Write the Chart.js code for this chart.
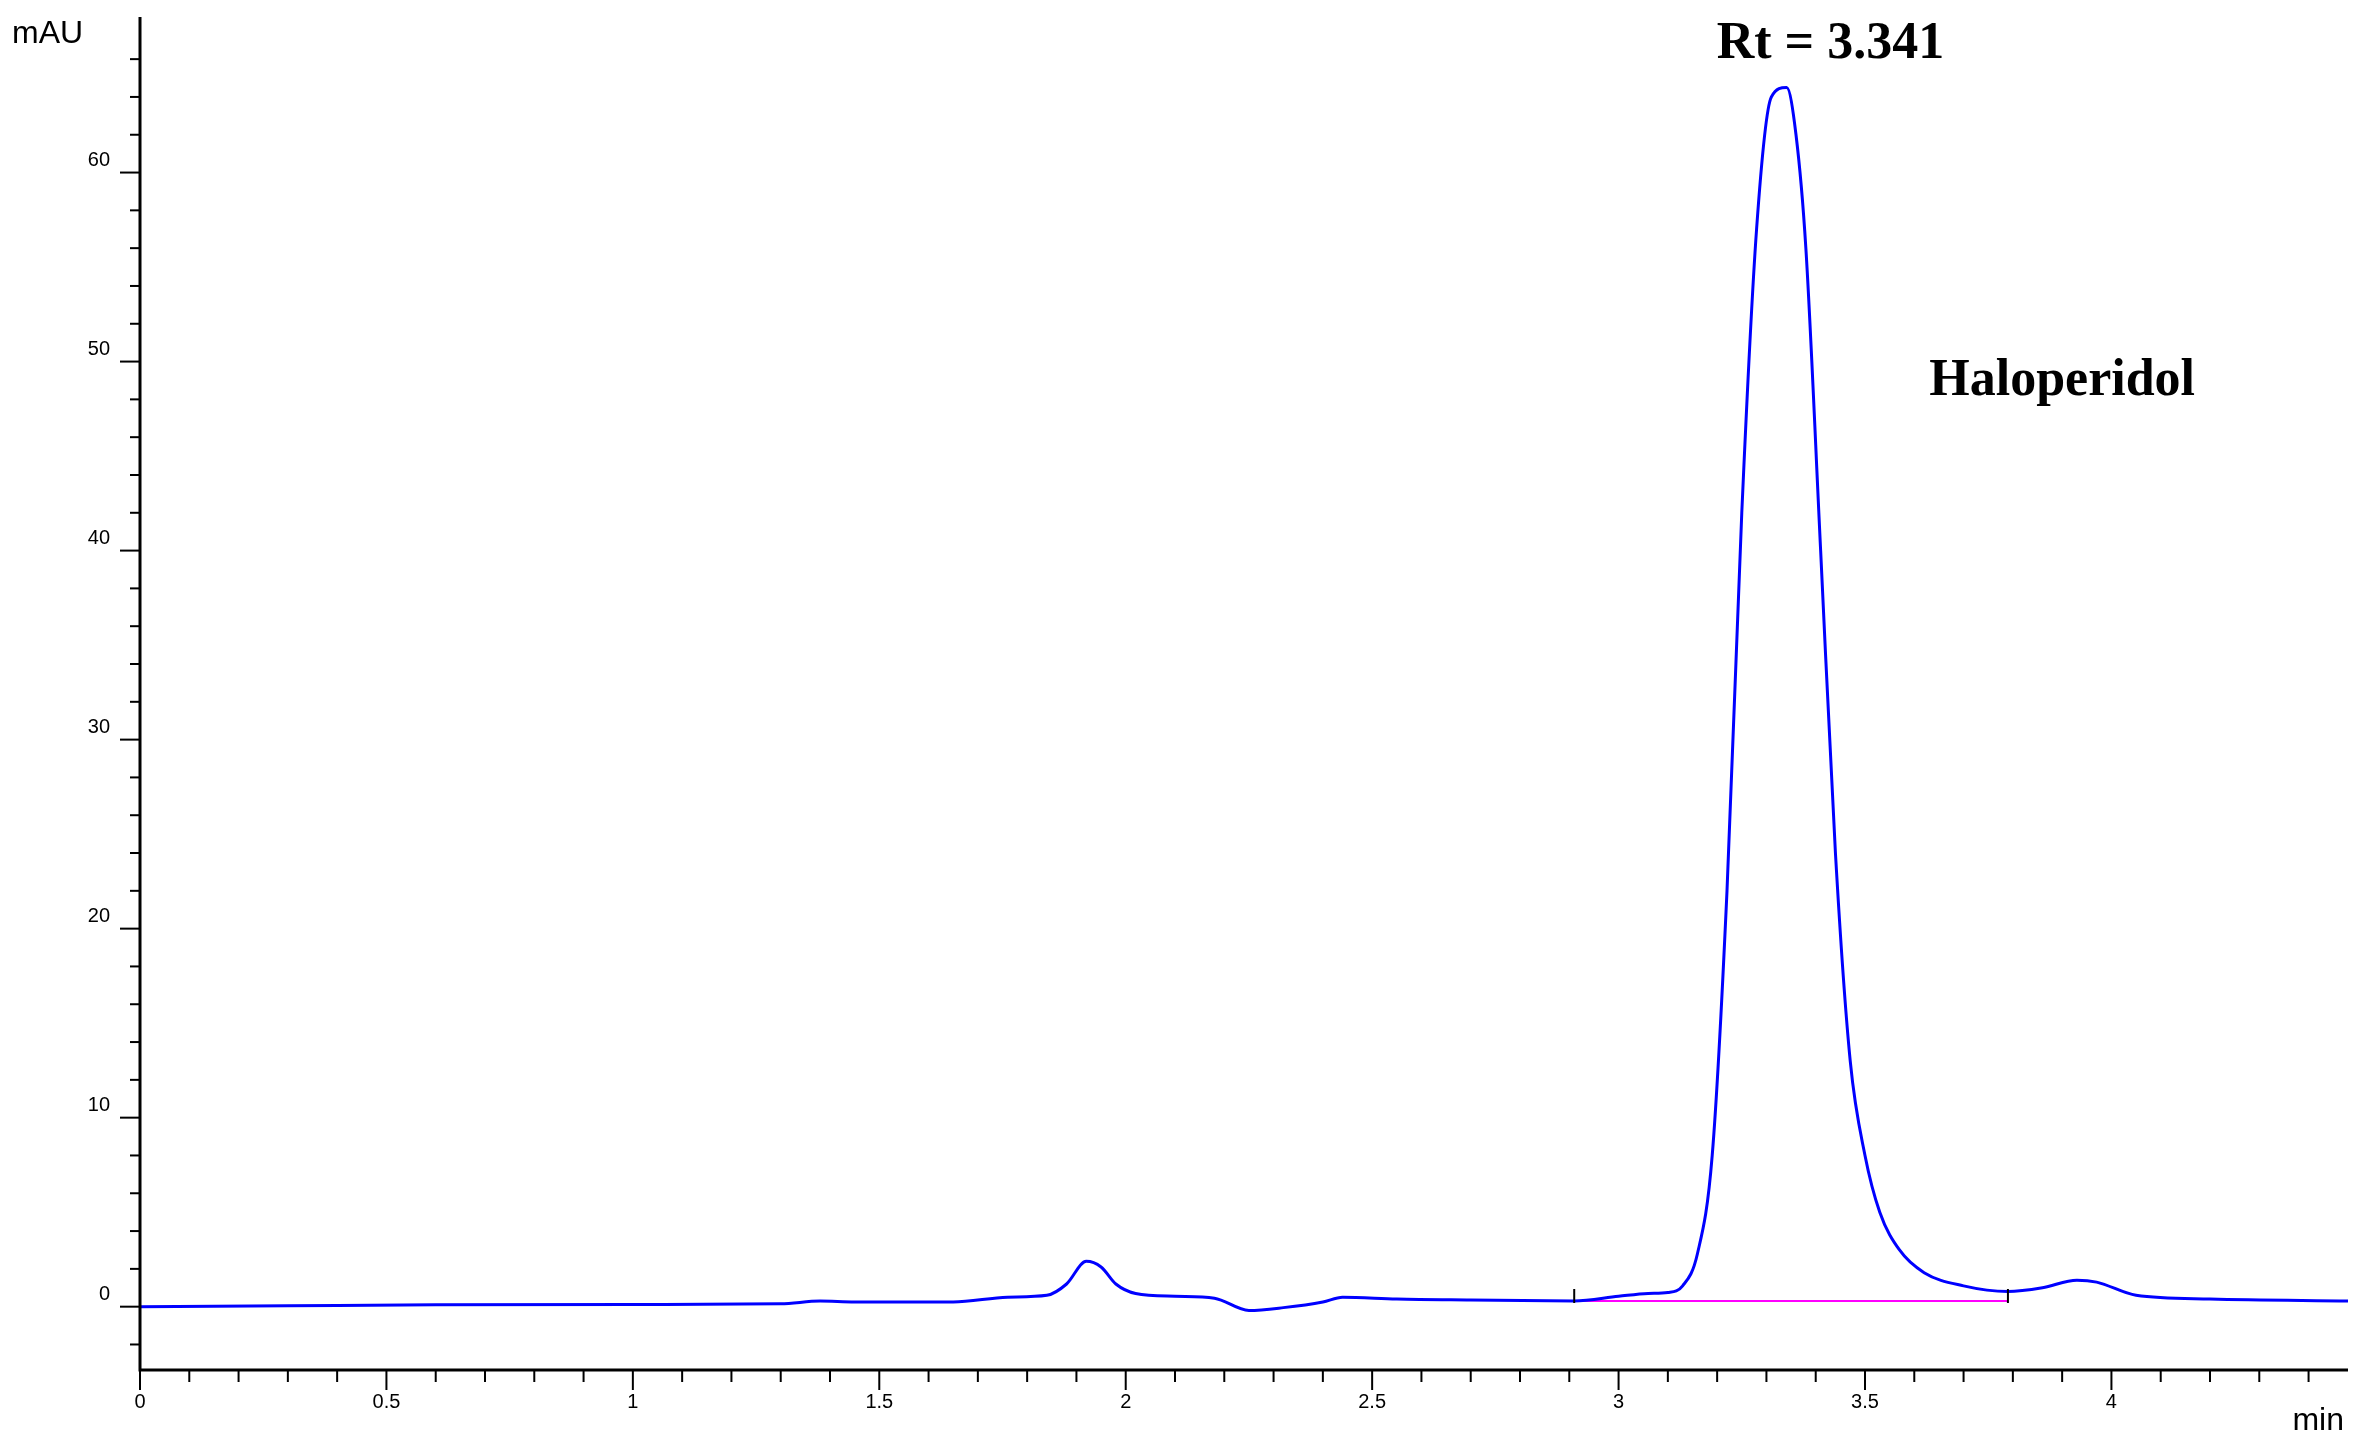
<!DOCTYPE html>
<html>
<head>
<meta charset="utf-8">
<script src="https://cdn.jsdelivr.net/npm/chart.js@4"></script>
<style>
  html, body { margin: 0; background: #fff; }
  #wrap { width: 2365px; height: 1432px; }
</style>
</head>
<body>
<div id="wrap"><canvas id="chrom"></canvas></div>
<script>
// retention time (min) and absorbance (mAU)
const times = [0, 0.3, 0.6, 1.0, 1.3, 1.38, 1.45, 1.65, 1.76, 1.84, 1.88, 1.92, 1.95, 1.98, 2.02, 2.1, 2.18, 2.25, 2.32, 2.4, 2.44, 2.55, 2.7, 2.91,
  3.0, 3.06, 3.1, 3.13, 3.16, 3.19, 3.22, 3.25, 3.28, 3.31, 3.341, 3.36, 3.38, 3.41, 3.44, 3.47, 3.5, 3.53, 3.57, 3.62, 3.7, 3.79,
  3.86, 3.93, 3.97, 4.05, 4.2, 4.48];
const signal = [0, 0.05, 0.1, 0.12, 0.15, 0.3, 0.25, 0.25, 0.5, 0.6, 1.2, 2.4, 2.1, 1.2, 0.7, 0.55, 0.45, -0.2, -0.05, 0.25, 0.5, 0.4, 0.35, 0.3,
  0.55, 0.7, 0.75, 1.1, 2.8, 8, 22, 42, 57, 64, 64.5, 62, 56, 40, 24, 13, 8, 5, 3, 1.8, 1.1, 0.8,
  1.0, 1.4, 1.3, 0.6, 0.4, 0.3];
const integStart = [2.91, 0.3];
const integEnd = [3.79, 0.3];
const xMajor = [0, 0.5, 1, 1.5, 2, 2.5, 3, 3.5, 4];
const yMajor = [0, 10, 20, 30, 40, 50, 60];

const points = times.map((t, i) => ({ x: t, y: signal[i] }));

const ticksPlugin = {
  id: 'chromTicks',
  afterDraw(chart) {
    const c = chart.ctx, xs = chart.scales.x, ys = chart.scales.y, a = chart.chartArea;
    c.save();
    c.strokeStyle = '#000';
    c.fillStyle = '#000';
    // axes
    c.lineWidth = 3;
    c.beginPath();
    c.moveTo(a.left, a.top - 10); c.lineTo(a.left, a.bottom);
    c.lineTo(a.right, a.bottom);
    c.stroke();
    c.lineWidth = 2;
    // x ticks
    c.font = '20px "Liberation Sans", Arial, sans-serif';
    c.textAlign = 'center'; c.textBaseline = 'top';
    for (let i = 0; i <= 44; i++) {
      const v = i / 10, px = xs.getPixelForValue(v);
      const major = i % 5 === 0;
      c.beginPath(); c.moveTo(px, a.bottom); c.lineTo(px, a.bottom + (major ? 20 : 12)); c.stroke();
      if (major) c.fillText(String(v), px, a.bottom + 22);
    }
    // y ticks
    c.textAlign = 'right'; c.textBaseline = 'middle';
    for (let v = -2; v <= 66; v += 2) {
      const py = ys.getPixelForValue(v);
      const major = v % 10 === 0;
      c.beginPath(); c.moveTo(a.left, py); c.lineTo(a.left - (major ? 20 : 10), py); c.stroke();
      if (major) c.fillText(String(v), a.left - 30, py - 12);
    }
    c.font = '32px "Liberation Sans", Arial, sans-serif';
    c.textAlign = 'left'; c.textBaseline = 'top';
    c.fillText('mAU', 12, 18);
    c.textAlign = 'right'; c.textBaseline = 'alphabetic';
    c.fillText('min', a.right - 4, a.bottom + 60);
    // integration markers
    [integStart, integEnd].forEach(p => {
      const px = xs.getPixelForValue(p[0]), py = ys.getPixelForValue(p[1]);
      c.beginPath(); c.moveTo(px, py - 12); c.lineTo(px, py + 2); c.stroke();
    });
    // annotations
    c.font = 'bold 52px "Liberation Serif", "Times New Roman", serif';
    c.textAlign = 'center';
    c.fillText('Rt = 3.341', xs.getPixelForValue(3.43), 58);
    c.fillText('Haloperidol', xs.getPixelForValue(3.9), 395);
    c.restore();
  }
};

new Chart(document.getElementById('chrom'), {
  type: 'line',
  data: {
    datasets: [{
      data: points,
      borderColor: '#0000ff',
      borderWidth: 3,
      pointRadius: 0,
      cubicInterpolationMode: 'monotone',
      fill: false
    }, {
      data: [{ x: integStart[0], y: integStart[1] }, { x: integEnd[0], y: integEnd[1] }],
      borderColor: '#ff00ff',
      borderWidth: 2,
      pointRadius: 0
    }]
  },
  options: {
    responsive: true,
    maintainAspectRatio: false,
    animation: false,
    layout: { padding: { left: 140, right: 17, top: 27, bottom: 62 } },
    plugins: { legend: { display: false }, tooltip: { enabled: false } },
    scales: {
      x: { type: 'linear', min: 0, max: 4.48, display: false },
      y: { min: -3.35, max: 67.7, display: false }
    }
  },
  plugins: [ticksPlugin]
});
</script>
</body>
</html>
